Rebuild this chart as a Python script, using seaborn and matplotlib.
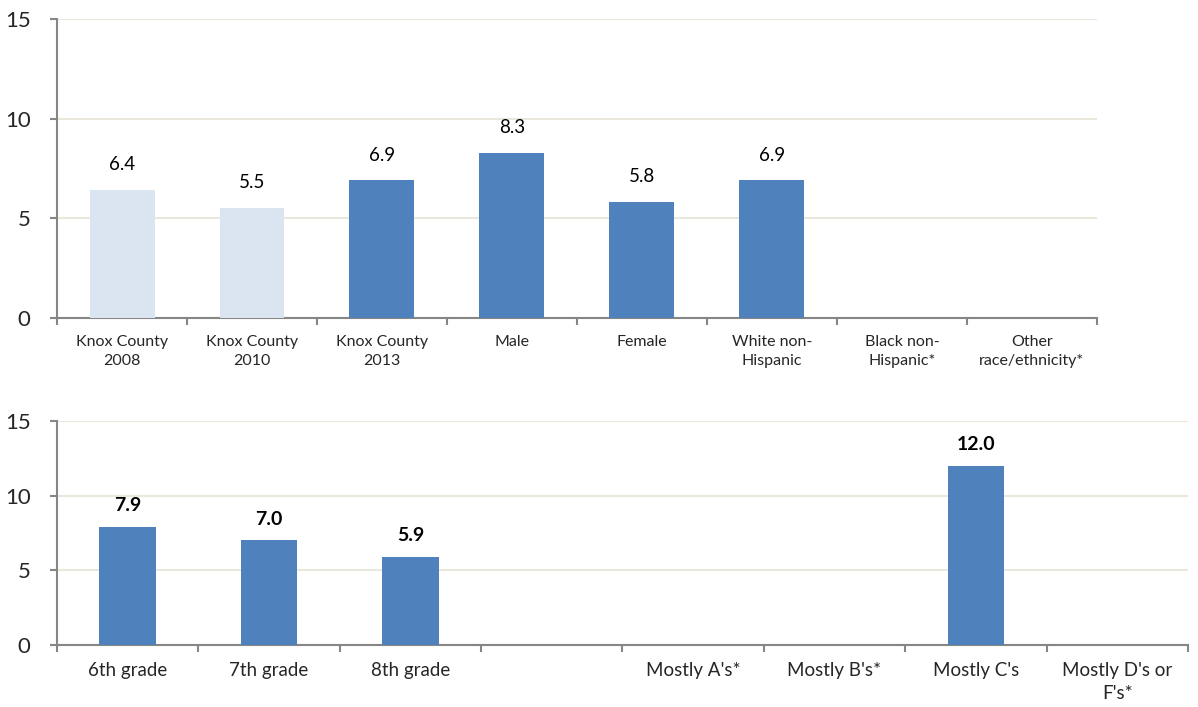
import matplotlib
matplotlib.use("Agg")
import matplotlib.pyplot as plt
import numpy as np
import pandas as pd
import seaborn as sns

# top panel
top_cats = ["Knox County\n2008", "Knox County\n2010", "Knox County\n2013", "Male",
            "Female", "White non-\nHispanic", "Black non-\nHispanic*", "Other\nrace/ethnicity*"]
top_vals = [6.4, 5.5, 6.9, 8.3, 5.8, 6.9, np.nan, np.nan]
top_grp = ["past", "past", "now", "now", "now", "now", "now", "now"]

# bottom panel
bot_cats = ["6th grade", "7th grade", "8th grade", " ", "Mostly A's*", "Mostly B's*",
            "Mostly C's", "Mostly D's or\nF's*"]
bot_vals = [7.9, 7.0, 5.9, np.nan, np.nan, np.nan, 12.0, np.nan]
bot_grp = ["now"] * 8

palette = {"past": "#DBE5F1", "now": "#4F81BD"}
axis_col = "#868686"
grid_col = "#EAE8DC"

sns.set_theme(style="white")
plt.rcParams["font.family"] = ["Lato", "DejaVu Sans"]

fig = plt.figure(figsize=(11.98, 7.07), dpi=100)
ax1 = fig.add_axes([0.0476, 0.5502, 0.868, 0.4229])
ax2 = fig.add_axes([0.0476, 0.0877, 0.944, 0.3168])


def panel(ax, cats, vals, grp, width, bold, xsize, vsize):
    df = pd.DataFrame({"cat": cats, "val": vals, "grp": grp})
    sns.barplot(data=df, x="cat", y="val", hue="grp", palette=palette, order=cats,
                dodge=False, width=width, legend=False, ax=ax, zorder=3,
                saturation=1, linewidth=0)
    for i, v in enumerate(vals):
        if not np.isnan(v):
            ax.text(i, v + 0.85, f"{v:.1f}", ha="center", va="bottom", fontsize=vsize,
                    fontweight="bold" if bold else "normal", color="black")
    ax.set_ylim(0, 15)
    ax.set_xlim(-0.5, len(cats) - 0.5)
    ax.set_yticks([0, 5, 10, 15])
    ax.yaxis.grid(True, color=grid_col, lw=1.5, zorder=0)
    ax.set_axisbelow(True)
    ax.set_xlabel("")
    ax.set_ylabel("")
    for s in ["top", "right"]:
        ax.spines[s].set_visible(False)
    for s in ["left", "bottom"]:
        ax.spines[s].set_color(axis_col)
        ax.spines[s].set_linewidth(1.5)
    ax.set_xticks(np.arange(len(cats)), cats, linespacing=1.45, fontsize=xsize)
    ax.set_xticks(np.arange(-0.5, len(cats), 1.0), minor=True)
    ax.tick_params(axis="x", which="major", length=0, pad=12)
    ax.tick_params(axis="x", which="minor", length=5, width=1.5, color=axis_col,
                   direction="out", bottom=True)
    ax.tick_params(axis="y", length=5, width=1.5, color=axis_col, direction="out",
                   left=True, labelsize=16, pad=14)


panel(ax1, top_cats, top_vals, top_grp, 0.5, False, 11.5, 13.5)
panel(ax2, bot_cats, bot_vals, bot_grp, 0.4, True, 13.5, 14)

fig.savefig("out.png", dpi=100)
